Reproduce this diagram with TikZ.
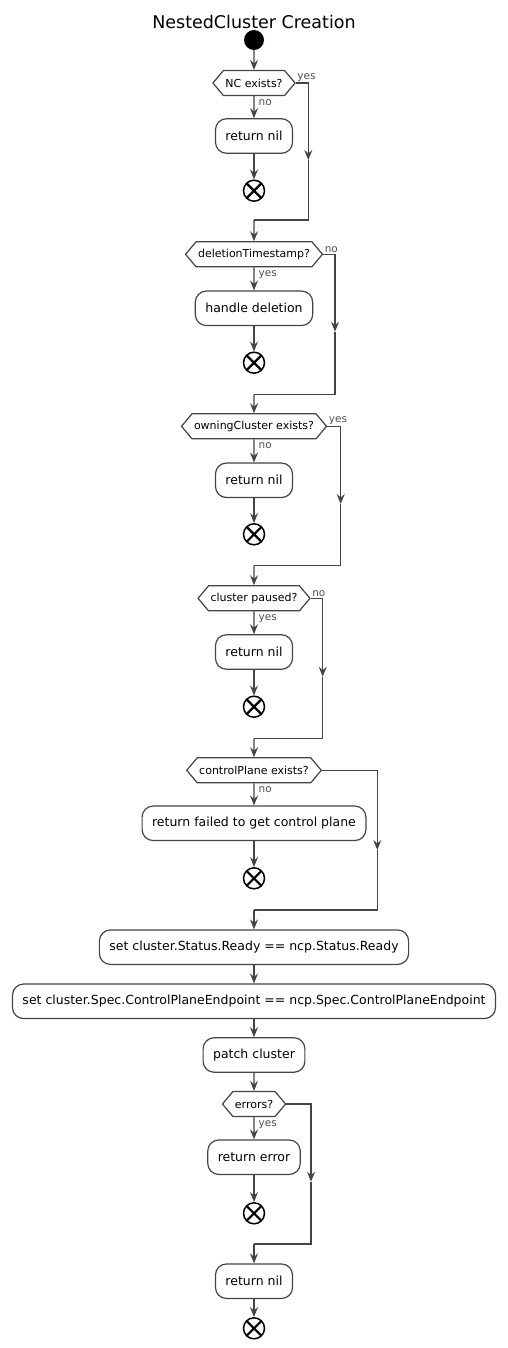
\documentclass[tikz,border=0pt]{standalone}
\usepackage{fontspec}
\setmainfont{DejaVu Sans}
\usetikzlibrary{shapes.symbols,arrows.meta}

\definecolor{linegray}{RGB}{68,68,68}
\definecolor{labelgray}{RGB}{80,80,80}

\tikzset{
  action/.style={draw=linegray, line width=1.2pt, fill=white, rounded corners=11pt,
    minimum height=34.5pt, inner xsep=10pt, font=\fontsize{12.5}{14}\selectfont},
  decision/.style={signal, signal to=east and west, signal pointer angle=100,
    draw=linegray, line width=1.2pt, fill=white, minimum height=25pt,
    inner xsep=2pt, inner ysep=0pt, font=\fontsize{11}{13}\selectfont},
  startnode/.style={circle, fill=black, minimum size=20pt, inner sep=0pt},
  stopnode/.style={circle, draw=black, line width=1.5pt, minimum size=21pt, inner sep=0pt,
    path picture={\draw[line width=2.2pt]
      (path picture bounding box.north west) -- (path picture bounding box.south east)
      (path picture bounding box.north east) -- (path picture bounding box.south west);}},
  flow/.style={draw=linegray, line width=1.2pt, -{Stealth[length=10pt,width=8pt,inset=3.5pt]}},
  wire/.style={draw=linegray, line width=1.2pt},
  sidelabel/.style={font=\fontsize{10.5}{12}\selectfont, text=labelgray, inner sep=1pt},
}

\begin{document}
\begin{tikzpicture}[x=1pt, y=-1pt]
  \useasboundingbox (0,0) rectangle (508,1348);

  % Title
  \node[anchor=base, font=\fontsize{17.5}{20}\selectfont] (title) at (254,28.3) {NestedCluster Creation};

  % Start
  \node[startnode] (start) at (254,40) {};

  % NC exists?
  \node[decision] (ncq) at (254,83) {NC exists?};
  \node[action] (ncnil) at (254,136) {return nil};
  \node[stopnode] (ncend) at (254,190.7) {};
  \coordinate (ncmid) at (308.3,160);
  \coordinate (ncmerge) at (254,220);

  % deletionTimestamp?
  \node[decision] (delq) at (254,254.3) {deletionTimestamp?};
  \node[action] (delbox) at (254,308.3) {handle deletion};
  \node[stopnode] (delend) at (254,362.7) {};
  \coordinate (delmid) at (335,331.7);
  \coordinate (delmerge) at (254,394.3);

  % owningCluster exists?
  \node[decision] (ownq) at (254,426.3) {owningCluster exists?};
  \node[action] (ownnil) at (254,480.3) {return nil};
  \node[stopnode] (ownend) at (254,534.3) {};
  \coordinate (ownmid) at (340.7,504);
  \coordinate (ownmerge) at (254,565.7);

  % cluster paused?
  \node[decision] (pauseq) at (254,598.3) {cluster paused?};
  \node[action] (pausenil) at (254,652) {return nil};
  \node[stopnode] (pauseend) at (254,706.7) {};
  \coordinate (pausemid) at (322.7,676.7);
  \coordinate (pausemerge) at (254,738.3);

  % controlPlane exists?
  \node[decision] (cpq) at (254,770.3) {controlPlane exists?};
  \node[action] (cpfail) at (254,823.3) {return failed to get control plane};
  \node[stopnode] (cpend) at (254,878.3) {};
  \coordinate (cpmid) at (377.3,850);
  \coordinate (cpmerge) at (254,910);

  % status and patch
  \node[action] (ready) at (254,947.2) {set cluster.Status.Ready == ncp.Status.Ready};
  \node[action] (endpoint) at (254,1001.3) {set cluster.Spec.ControlPlaneEndpoint == ncp.Spec.ControlPlaneEndpoint};
  \node[action] (patch) at (254,1055) {patch cluster};

  % errors?
  \node[decision] (errq) at (254,1104) {errors?};
  \node[action] (errbox) at (254,1157.2) {return error};
  \node[stopnode] (errend) at (254,1213.3) {};
  \coordinate (errmid) at (311,1181.7);
  \coordinate (errmerge) at (254,1244);

  \node[action] (done) at (254,1281.2) {return nil};
  \node[stopnode] (doneend) at (254,1328.3) {};

  % Connectors
  \draw[flow] (start) -- (ncq);
  \draw[flow] (ncq) -- node[sidelabel, pos=0, anchor=north west, xshift=3pt, yshift=-1.5pt] {no} (ncnil);
  \draw[flow] (ncnil) -- (ncend);
  \draw[flow] (ncq.east) -| node[sidelabel, pos=0, anchor=south west] {yes} (ncmid);
  \draw[wire] (ncmid) |- (ncmerge);
  \draw[flow] (ncmerge) -- (delq);

  \draw[flow] (delq) -- node[sidelabel, pos=0, anchor=north west, xshift=3pt, yshift=-1.5pt] {yes} (delbox);
  \draw[flow] (delbox) -- (delend);
  \draw[flow] (delq.east) -| node[sidelabel, pos=0, anchor=south west] {no} (delmid);
  \draw[wire] (delmid) |- (delmerge);
  \draw[flow] (delmerge) -- (ownq);

  \draw[flow] (ownq) -- node[sidelabel, pos=0, anchor=north west, xshift=3pt, yshift=-1.5pt] {no} (ownnil);
  \draw[flow] (ownnil) -- (ownend);
  \draw[flow] (ownq.east) -| node[sidelabel, pos=0, anchor=south west] {yes} (ownmid);
  \draw[wire] (ownmid) |- (ownmerge);
  \draw[flow] (ownmerge) -- (pauseq);

  \draw[flow] (pauseq) -- node[sidelabel, pos=0, anchor=north west, xshift=3pt, yshift=-1.5pt] {yes} (pausenil);
  \draw[flow] (pausenil) -- (pauseend);
  \draw[flow] (pauseq.east) -| node[sidelabel, pos=0, anchor=south west] {no} (pausemid);
  \draw[wire] (pausemid) |- (pausemerge);
  \draw[flow] (pausemerge) -- (cpq);

  \draw[flow] (cpq) -- node[sidelabel, pos=0, anchor=north west, xshift=3pt, yshift=-1.5pt] {no} (cpfail);
  \draw[flow] (cpfail) -- (cpend);
  \draw[flow] (cpq.east) -| (cpmid);
  \draw[wire] (cpmid) |- (cpmerge);
  \draw[flow] (cpmerge) -- (ready);

  \draw[flow] (ready) -- (endpoint);
  \draw[flow] (endpoint) -- (patch);
  \draw[flow] (patch) -- (errq);

  \draw[flow] (errq) -- node[sidelabel, pos=0, anchor=north west, xshift=3pt, yshift=-1.5pt] {yes} (errbox);
  \draw[flow] (errbox) -- (errend);
  \draw[flow] (errq.east) -| (errmid);
  \draw[wire] (errmid) |- (errmerge);
  \draw[flow] (errmerge) -- (done);
  \draw[flow] (done) -- (doneend);
\end{tikzpicture}
\end{document}
